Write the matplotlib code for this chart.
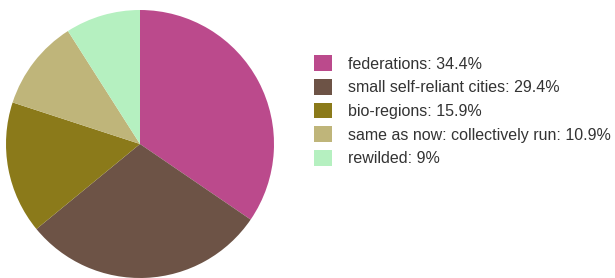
import matplotlib
matplotlib.use('Agg')
from matplotlib import pyplot as plt

labels = ['federations', 'small self-reliant cities', 'bio-regions',
          'same as now: collectively run', 'rewilded']
shares = [34.4, 29.4, 15.9, 10.9, 9]
pct_text = ['34.4%', '29.4%', '15.9%', '10.9%', '9%']
colors = ['#bb4a8c', '#6d5346', '#8b7a1a', '#bfb57a', '#b5f0c0']

plt.rcParams['font.family'] = ['Liberation Sans', 'DejaVu Sans']

fig = plt.figure(figsize=(6.15, 2.78), dpi=100)
ax = fig.add_axes([6/615, 0/278, 268/615, 268/278])
wedges, _ = ax.pie(shares, colors=colors, startangle=90, counterclock=False,
                   radius=1, wedgeprops={'linewidth': 0})
ax.set_xlim(-1, 1)
ax.set_ylim(-1, 1)
ax.set_aspect('equal')

legend_labels = [f'{l}: {p}' for l, p in zip(labels, pct_text)]
fig.legend(wedges, legend_labels, loc='upper left',
           bbox_to_anchor=(300/615, 1 - 41/278), frameon=False,
           fontsize=11.5, handlelength=1.12, handleheight=1.12,
           handletextpad=1.0, labelspacing=0.47, labelcolor='#333333')

fig.savefig('out.png', dpi=100)
